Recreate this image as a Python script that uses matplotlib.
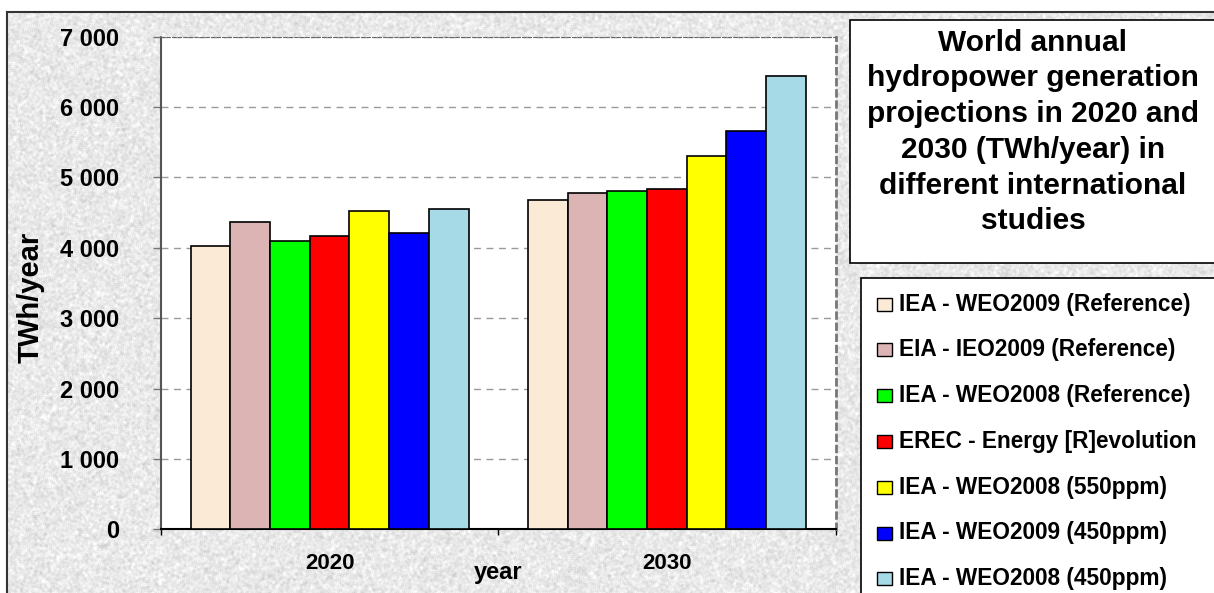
import numpy as np
import matplotlib
matplotlib.use("Agg")
import matplotlib.pyplot as plt
from matplotlib.patches import Rectangle
from matplotlib.lines import Line2D
from matplotlib.ticker import FuncFormatter, FixedLocator

# Datos: generación hidroeléctrica mundial proyectada (TWh/año)
years = ["2020", "2030"]
studies = [
    "IEA - WEO2009 (Reference)",
    "EIA - IEO2009 (Reference)",
    "IEA - WEO2008 (Reference)",
    "EREC - Energy [R]evolution",
    "IEA - WEO2008 (550ppm)",
    "IEA - WEO2009 (450ppm)",
    "IEA - WEO2008 (450ppm)",
]
iea_weo2009_ref = [4030, 4680]
eia_ieo2009_ref = [4370, 4775]
iea_weo2008_ref = [4100, 4810]
erec_revolution = [4170, 4835]
iea_weo2008_550 = [4530, 5310]
iea_weo2009_450 = [4210, 5660]
iea_weo2008_450 = [4550, 6445]
values = [iea_weo2009_ref, eia_ieo2009_ref, iea_weo2008_ref, erec_revolution,
          iea_weo2008_550, iea_weo2009_450, iea_weo2008_450]
colors = ["#FBEBD6", "#DCB4B4", "#00FF00", "#FF0000", "#FFFF00", "#0000FF", "#A6DAE6"]

W, H = 1214, 593
plt.rcParams["font.family"] = ["Liberation Sans", "DejaVu Sans"]
plt.rcParams["font.weight"] = "bold"

fig = plt.figure(figsize=(W / 100, H / 100), dpi=100, facecolor="white")

# fondo granulado gris
h_img, w_img = H - 12, W - 7
rng = np.random.default_rng(7)
noise = rng.normal(0, 1, (h_img, w_img))
blur = sum(np.roll(np.roll(noise, i, 0), j, 1) for i in range(3) for j in range(3)) / 9
gray = (0.915 + 0.03 * blur / blur.std()).clip(0, 1)
fig.figimage(np.dstack([gray] * 3), xo=7, yo=0, zorder=-1)

# marco exterior
fig.add_artist(Line2D([7 / W, 7 / W], [0, 1 - 12 / H], color="#333333", lw=1.5))
fig.add_artist(Line2D([7 / W, 1], [1 - 12 / H, 1 - 12 / H], color="#333333", lw=1.5))

ax = fig.add_axes([161 / W, 1 - 529.3 / H, 674.5 / W, 492.6 / H])
ax.set_facecolor("white")

x = np.arange(len(years))
n = len(studies)
bw = 278 / 337 / n
for i, (name, vals, c) in enumerate(zip(studies, values, colors)):
    ax.bar(x + (i - (n - 1) / 2) * bw, vals, width=bw, color=c,
           edgecolor="black", linewidth=1.2, label=name, zorder=3)

ax.set_xlim(-0.5, 1.5)
ax.set_ylim(0, 7000)
ax.set_yticks(np.arange(0, 7001, 1000))
ax.yaxis.set_major_formatter(FuncFormatter(lambda v, p: f"{int(v):,}".replace(",", " ")))
ax.tick_params(axis="y", direction="out", length=6, width=1, color="#777777",
               labelsize=17, pad=24)
for lab in ax.get_yticklabels():
    lab.set_fontweight("bold")

ax.xaxis.set_major_locator(FixedLocator([-0.5, 0.5, 1.5]))
ax.xaxis.set_minor_locator(FixedLocator(x))
ax.xaxis.set_major_formatter(FuncFormatter(lambda v, p: ""))
ax.xaxis.set_minor_formatter(FuncFormatter(lambda v, p: years[int(round(v))]))
ax.tick_params(axis="x", which="major", direction="out", length=4, width=1, color="black")
ax.tick_params(axis="x", which="minor", length=0, labelsize=16, pad=17)
for lab in ax.get_xticklabels(minor=True):
    lab.set_fontweight("bold")

ax.yaxis.grid(True, linestyle=(0, (5, 4)), color="#9A9A9A", linewidth=1)
ax.set_axisbelow(True)

ax.spines["left"].set_color("#555555")
ax.spines["left"].set_linestyle((0, (2, 1)))
ax.spines["left"].set_linewidth(1.5)
ax.spines["top"].set_color("#666666")
ax.spines["top"].set_linestyle((0, (3, 2)))
ax.spines["right"].set_color("#777777")
ax.spines["right"].set_linestyle((0, (2, 2)))
ax.spines["right"].set_linewidth(2)
ax.spines["bottom"].set_color("black")
ax.spines["bottom"].set_linewidth(1.5)

ax.set_xlabel("year", fontsize=17, fontweight="bold")
ax.xaxis.set_label_coords(0.5, -0.064)
ax.set_ylabel("TWh/year", fontsize=21, fontweight="bold", va="center")
ax.yaxis.set_label_coords(-0.194, 0.4706)

# recuadro del título
fig.patches.append(Rectangle((850 / W, 1 - 263 / H), 400 / W, 243 / H,
                             transform=fig.transFigure, facecolor="white",
                             edgecolor="black", lw=1.2, zorder=1))
fig.text(1033 / W, 1 - 132 / H,
         "World annual\nhydropower generation\nprojections in 2020 and\n"
         "2030 (TWh/year) in\ndifferent international\nstudies",
         ha="center", va="center", fontsize=21.5, fontweight="bold",
         linespacing=1.35, zorder=2)

# leyenda
fig.patches.append(Rectangle((860.7 / W, -0.1), 400 / W, 0.1 + 1 - 278.3 / H,
                             transform=fig.transFigure, facecolor="white",
                             edgecolor="black", lw=1.2, zorder=1))
for i, (name, c) in enumerate(zip(studies, colors)):
    yc = 304 + i * 45.8
    fig.patches.append(Rectangle((877 / W, 1 - (yc + 6.5) / H), 15 / W, 13 / H,
                                 transform=fig.transFigure, facecolor=c,
                                 edgecolor="black", lw=1, zorder=2))
    fig.text(899 / W, 1 - (yc + 6.5) / H, name, ha="left", va="baseline",
             fontsize=16.3, fontweight="bold", zorder=2)

fig.savefig("out.png", dpi=100)
